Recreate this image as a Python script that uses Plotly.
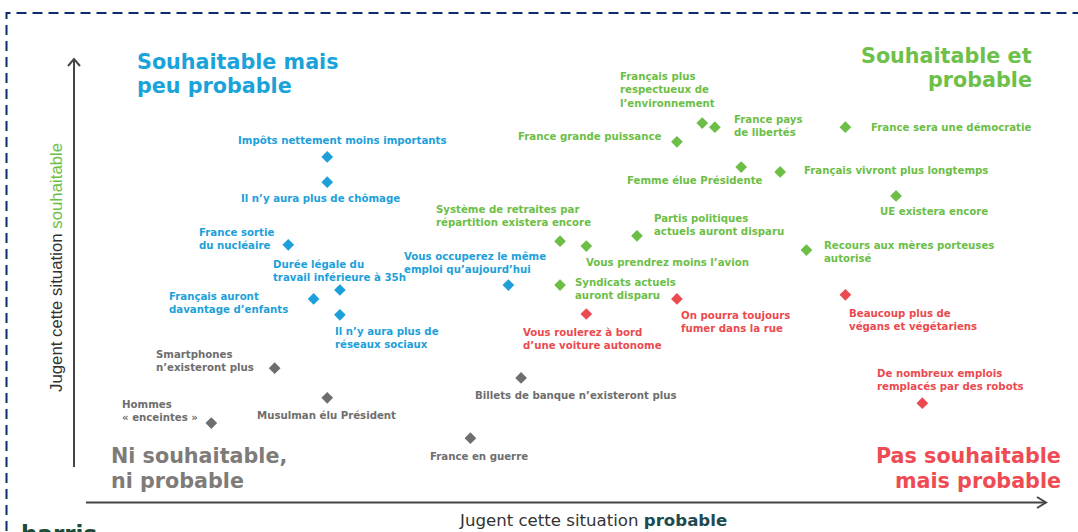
import plotly.graph_objects as go

# ---------------- data ----------------
labels = [
    "Impôts nettement moins importants",
    "Il n’y aura plus de chômage",
    "France sortie<br>du nucléaire",
    "Durée légale du<br>travail inférieure à 35h",
    "Français auront<br>davantage d’enfants",
    "Il n’y aura plus de<br>réseaux sociaux",
    "Vous occuperez le même<br>emploi qu’aujourd’hui",
    "Français plus<br>respectueux de<br>l’environnement",
    "France pays<br>de libertés",
    "France sera une démocratie",
    "France grande puissance",
    "Femme élue Présidente",
    "Français vivront plus longtemps",
    "UE existera encore",
    "Système de retraites par<br>répartition existera encore",
    "Vous prendrez moins l’avion",
    "Partis politiques<br>actuels auront disparu",
    "Recours aux mères porteuses<br>autorisé",
    "Syndicats actuels<br>auront disparu",
    "On pourra toujours<br>fumer dans la rue",
    "Vous roulerez à bord<br>d’une voiture autonome",
    "Beaucoup plus de<br>végans et végétariens",
    "De nombreux emplois<br>remplacés par des robots",
    "Smartphones<br>n’existeront plus",
    "Hommes<br>« enceintes »",
    "Musulman élu Président",
    "Billets de banque n’existeront plus",
    "France en guerre",
]
probable = [26.0, 26.0, 22.0, 27.3, 24.6, 27.3, 44.6,
            64.5, 65.8, 79.2, 61.9, 68.5, 72.5, 84.4, 49.9, 52.6, 57.8, 75.2, 49.9,
            61.9, 52.6, 79.2, 87.1,
            20.6, 14.1, 26.0, 45.9, 40.7]
souhaitable = [75.7, 69.5, 54.1, 43.0, 40.8, 36.9, 44.2,
               84.0, 83.0, 83.0, 79.4, 73.2, 72.0, 66.1, 55.0, 53.8, 56.3, 52.8, 44.2,
               40.8, 37.1, 41.8, 15.2,
               23.8, 10.3, 16.5, 21.4, 6.6]
quadrant = ["blue"] * 7 + ["green"] * 12 + ["red"] * 4 + ["gray"] * 5

quadrant_titles = {
    "blue": ["Souhaitable mais", "peu probable"],
    "green": ["Souhaitable et", "probable"],
    "gray": ["Ni souhaitable,", "ni probable"],
    "red": ["Pas souhaitable", "mais probable"],
}

# ---------------- styles / layout ----------------
W, H = 1078, 532
COL = {"blue": "#1DA0DA", "green": "#6CBE47", "red": "#EB4A50", "gray": "#6E6E6E"}
TITLE_COL = {"blue": "#1AA3DB", "green": "#6DC04A", "red": "#EE4B53", "gray": "#7E7B79"}

# label placement: (xanchor, dx px, dy px downward) relative to the marker
LABEL_POS = [
    ("center", 15, -16), ("center", -7, 16), ("right", -12, -6), ("left", -69, -19),
    ("right", -24, 4), ("left", -7, 23), ("left", -106, -22),
    ("left", -84, -33), ("left", 17, -1), ("left", 24, 0), ("right", -14, -5),
    ("left", -116, 13), ("left", 22, -1), ("center", 38, 16), ("left", -126, -25),
    ("left", -2, 16), ("left", 15, -11), ("left", 16, 2), ("left", 13, 4),
    ("left", 2, 23), ("left", -65, 25), ("left", 2, 25), ("left", -47, -23),
    ("right", -19, -7), ("right", -11, -12), ("center", -1, 18), ("center", 55, 18),
    ("center", 9, 18),
]

# axis scaling: 0..100 on each axis
X0PX, X100PX = 74, 1048
Y0PX, Y100PX = 465, 58
sx = (X100PX - X0PX) / 100.0
sy = (Y0PX - Y100PX) / 100.0
xrange_ = [-X0PX / sx, (W - X0PX) / sx]
yrange_ = [(Y0PX - H) / sy, Y0PX / sy]


def px(x):
    return x / W


def py(y):
    return 1 - y / H


fig = go.Figure()
for q in ["blue", "green", "red", "gray"]:
    idx = [i for i, g in enumerate(quadrant) if g == q]
    fig.add_trace(go.Scatter(
        x=[probable[i] for i in idx],
        y=[souhaitable[i] for i in idx],
        mode="markers",
        marker=dict(symbol="diamond", size=9, color=COL[q], line=dict(width=0)),
        text=[labels[i].replace("<br>", " ") for i in idx],
        hoverinfo="text",
        showlegend=False,
    ))

annotations = []
for i, lab in enumerate(labels):
    xa, dx, dy = LABEL_POS[i]
    bold = "<br>".join(f"<b>{part}</b>" for part in lab.split("<br>"))
    annotations.append(dict(
        x=probable[i], y=souhaitable[i], xref="x", yref="y",
        text=bold, showarrow=False, xanchor=xa, yanchor="middle",
        xshift=dx, yshift=-dy, align="left",
        font=dict(family="DejaVu Sans", size=10.2, color=COL[quadrant[i]]),
    ))

# quadrant titles (one annotation per line)
title_spec = {
    "blue": ("left", 135, [61.8, 85.8]),
    "green": ("right", 1034, [55.8, 79.8]),
    "gray": ("left", 109, [455.8, 480.8]),
    "red": ("right", 1063, [455.8, 480.8]),
}
for q, (xa, xp, ys) in title_spec.items():
    for line, yp in zip(quadrant_titles[q], ys):
        annotations.append(dict(
            x=px(xp), y=py(yp), xref="paper", yref="paper",
            text=f"<b>{line}</b>", showarrow=False, xanchor=xa, yanchor="middle",
            font=dict(family="DejaVu Sans", size=20.7, color=TITLE_COL[q]),
        ))

# axis titles
annotations.append(dict(
    x=px(592.5), y=py(520.3), xref="paper", yref="paper", showarrow=False,
    text="Jugent cette situation <b><span style='color:#1E4B52'>probable</span></b>",
    font=dict(family="DejaVu Sans", size=16.6, color="#333333"),
    xanchor="center", yanchor="middle",
))
annotations.append(dict(
    x=px(56), y=py(268), xref="paper", yref="paper", showarrow=False, textangle=-90,
    text="Jugent cette situation <span style='color:#6CBE47'>souhaitable</span>",
    font=dict(family="Liberation Sans", size=16.8, color="#333333"),
    xanchor="center", yanchor="middle",
))
# logo
annotations.append(dict(
    x=px(19), y=py(534), xref="paper", yref="paper", showarrow=False,
    text="<b>harris</b>", xanchor="left", yanchor="middle",
    font=dict(family="DejaVu Sans", size=23, color="#1E4A38"),
))

AX = "#454545"
shapes = [
    # dashed frame
    dict(type="rect", xref="paper", yref="paper", x0=px(6.5), x1=px(1095),
         y0=py(560), y1=py(13), line=dict(color="#0B2B6A", width=2, dash="10px,6px")),
    # y axis
    dict(type="line", xref="paper", yref="paper", x0=px(74), x1=px(74),
         y0=py(467), y1=py(59), line=dict(color=AX, width=2)),
    dict(type="path", xref="paper", yref="paper",
         path=f"M{px(68)},{py(66)} L{px(74)},{py(59)} L{px(80)},{py(66)}",
         line=dict(color=AX, width=2)),
    # x axis
    dict(type="line", xref="paper", yref="paper", x0=px(86), x1=px(1046),
         y0=py(502.5), y1=py(502.5), line=dict(color=AX, width=2)),
    dict(type="path", xref="paper", yref="paper",
         path=f"M{px(1037)},{py(497)} L{px(1046)},{py(502.5)} L{px(1037)},{py(508)}",
         line=dict(color=AX, width=2)),
]

fig.update_layout(
    width=W, height=H,
    margin=dict(l=0, r=0, t=0, b=0),
    paper_bgcolor="white", plot_bgcolor="white",
    xaxis=dict(range=xrange_, visible=False, fixedrange=True),
    yaxis=dict(range=yrange_, visible=False, fixedrange=True),
    annotations=annotations,
    shapes=shapes,
    showlegend=False,
)

fig.write_html(
    "out.html",
    config={"displayModeBar": False},
    post_script="document.body.style.margin='0';document.body.style.overflow='hidden';",
)
